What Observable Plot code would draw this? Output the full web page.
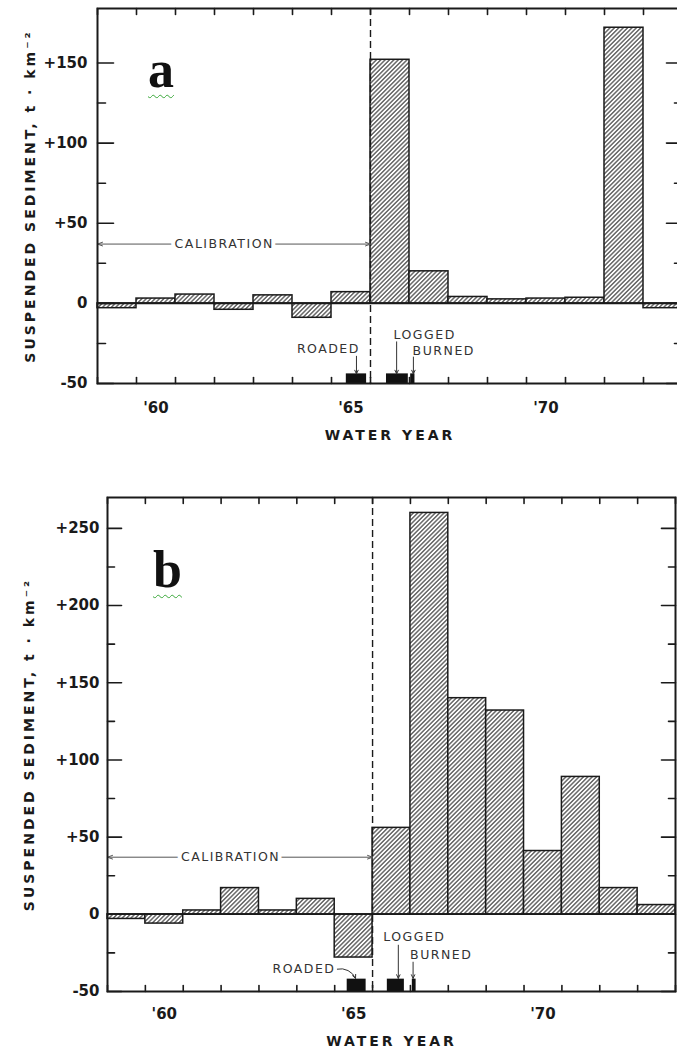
<!DOCTYPE html>
<html><head><meta charset="utf-8">
<script src="https://cdn.jsdelivr.net/npm/d3@7"></script>
<script src="https://cdn.jsdelivr.net/npm/@observablehq/plot@0.6"></script>
<style>
body{margin:0;background:#fff;overflow:hidden;}
#wrap{position:relative;width:677px;height:1051px;overflow:hidden;}
#wrap svg{display:block;max-width:none;}
.letter{position:absolute;font:bold 52px "Liberation Serif",serif;line-height:52px;color:#111;
  text-decoration:underline wavy #3aa83a;text-decoration-thickness:1px;text-underline-offset:7px;}
</style></head><body><div id="wrap"></div>
<script>
// ---- data ----
const waterYears = [1959,1960,1961,1962,1963,1964,1965,1966,1967,1968,1969,1970,1971,1972,1973];
const sedimentA = [-3, 3, 5.5, -4, 5, -9, 7, 152, 20, 4, 2.5, 3, 3.5, 172, -3];
const sedimentB = [-3, -6, 2.5, 17, 2.5, 10, -28, 56, 260, 140, 132, 41, 89, 17, 6];
const yMajorA = [-50, 0, 50, 100, 150];
const yMinorA = [-25, 25, 75, 125];
const yMajorB = [-50, 0, 50, 100, 150, 200, 250];
const yMinorB = [-25, 25, 75, 125, 175, 225];
const yearBoundaries = [1959,1960,1961,1962,1963,1964,1965,1966,1967,1968,1969,1970,1971,1972,1973,1974];
const yearLabelYears = [1960, 1965, 1970];
const yearLabels = ["'60", "'65", "'70"];
const treatmentYear = 1966;
const calibrationLabel = "CALIBRATION";
const calibrationStart = 1959, calibrationEnd = 1966, calibrationValue = 37, calibrationLabelAt = 1962.25;
const activities = ["ROADED", "LOGGED", "BURNED"];
const activityStartA = [1965.38, 1966.41, 1967.03];
const activityEndA   = [1965.9, 1966.97, 1967.14];
const activityStartB = [1965.33, 1966.39, 1967.05];
const activityEndB   = [1965.83, 1966.84, 1967.15];
// annotation anchors (data coordinates)
const notesA = [
  {text:"ROADED", x:1964.92, y:-28.5, anchor:"middle", x1:1965.64, y1:-33, x2:1965.64, y2:-44, bend:0},
  {text:"LOGGED", x:1966.59, y:-19.5, anchor:"start", x1:1966.67, y1:-24, x2:1966.67, y2:-44, bend:0},
  {text:"BURNED", x:1967.08, y:-30, anchor:"start", x1:1967.1, y1:-33.5, x2:1967.1, y2:-44, bend:0}
];
const notesB = [
  {text:"ROADED", x:1965.02, y:-35.5, anchor:"end", x1:1965.07, y1:-35.5, x2:1965.55, y2:-41.5, bend:40},
  {text:"LOGGED", x:1966.28, y:-15, anchor:"start", x1:1966.68, y1:-20, x2:1966.68, y2:-41.5, bend:0},
  {text:"BURNED", x:1966.99, y:-26.5, anchor:"start", x1:1967.07, y1:-31, x2:1967.07, y2:-41.5, bend:0}
];
const yTitle = "SUSPENDED SEDIMENT, t · km⁻²";
const xTitle = "WATER YEAR";

const ink = "#1a1a1a";
const tickShape = {draw(ctx, l){ ctx.moveTo(0,0); ctx.lineTo(0,-l); }};
const fmt = d => d > 0 ? "+" + d : String(d);

function ticks(values, ch, side, len){
  const rot = {left:90, right:-90, bottom:0, top:180}[side];
  return Plot.vector(values, {[ch]: d => d, frameAnchor: side, length: len, rotate: rot,
    anchor: "start", shape: tickShape, stroke: ink, strokeWidth: 1.6});
}

function panel(o){
  const rows = waterYears.map((year, i) => ({year, value: o.values[i]}));
  const acts = activities.map((name, i) => ({name, start: o.actStart[i], end: o.actEnd[i]}));
  const calib = [{label: calibrationLabel, at: calibrationLabelAt, start: calibrationStart, end: calibrationEnd, v: calibrationValue}];
  const labels = yearLabelYears.map((y, i) => ({y, t: yearLabels[i]}));
  const marks = [
    Plot.rect(rows, {x1: "year", x2: d => d.year + 1, y1: 0, y2: "value",
      fill: `url(#${o.hatch})`, stroke: ink, strokeWidth: 1.5}),
    Plot.ruleY([0], {stroke: ink, strokeWidth: 1.6}),
    Plot.ruleX([treatmentYear], {stroke: ink, strokeWidth: 1.4, strokeDasharray: "7,4"}),
    Plot.arrow(calib, {x1: "at", x2: "start", y1: "v", y2: "v", stroke: "#555", strokeWidth: 1, headLength: 8, headAngle: 40}),
    Plot.arrow(calib, {x1: "at", x2: "end", y1: "v", y2: "v", stroke: "#555", strokeWidth: 1, headLength: 8, headAngle: 40}),
    Plot.text(calib, {x: "at", y: "v", text: "label", fill: "#333", stroke: "white", strokeWidth: 8, fontSize: 12.5}),
    Plot.rect(acts, {x1: "start", x2: "end", y1: -50, y2: o.actTop, fill: "#111"}),
    ...o.notes.map(n => Plot.text([n], {x: "x", y: "y", text: "text", textAnchor: n.anchor, fill: "#333", fontSize: 12.5})),
    ...o.notes.map(n => Plot.arrow([n], {x1: "x1", y1: "y1", x2: "x2", y2: "y2", bend: n.bend, stroke: "#333", strokeWidth: 1, headLength: 6, headAngle: 50})),
    Plot.frame({stroke: ink, strokeWidth: 2}),
    ticks(o.yMajor, "y", "left", o.majLen),
    ticks(o.yMinor, "y", "left", o.minLen),
    ticks(o.yMajor, "y", "right", o.majLen),
    ticks(o.yMinor, "y", "right", o.minLen),
    ticks(yearBoundaries, "x", "bottom", 6),
    ticks(yearBoundaries, "x", "top", 6),
    Plot.text(o.yMajor, {y: d => d, text: fmt, frameAnchor: "left", textAnchor: "end", dx: o.ylabDx, fontSize: 15, fontWeight: "bold", fill: ink}),
    Plot.text(labels, {x: d => d.y + 0.5, text: "t", frameAnchor: "bottom", dy: o.xlabDy, fontSize: 15, fontWeight: "bold", fill: ink}),
    Plot.text([xTitle], {text: d => d, frameAnchor: "bottom", dy: o.xTitleDy, fontSize: 14, fontWeight: "bold", fill: ink}),
    Plot.text([yTitle], {text: d => d, frameAnchor: "left", textAnchor: "middle", rotate: -90, dx: o.yTitleDx, fontSize: 14, fontWeight: "bold", fill: ink})
  ];
  const svg = Plot.plot({
    width: o.width, height: o.height,
    marginLeft: o.ml, marginRight: o.mr, marginTop: o.mt, marginBottom: o.mb,
    x: {domain: [1959, 1974], axis: null},
    y: {domain: o.yDomain, axis: null},
    style: {fontFamily: "'DejaVu Sans', sans-serif", background: "white", maxWidth: "none"},
    marks
  });
  svg.style.maxWidth = "none";
  const defs = d3.select(svg).insert("defs", ":first-child");
  const s = 3.1;
  const p = defs.append("pattern").attr("id", o.hatch).attr("patternUnits", "userSpaceOnUse")
    .attr("width", s).attr("height", s).attr("patternTransform", "rotate(45)");
  p.append("rect").attr("width", s).attr("height", s).attr("fill", "#fff");
  p.append("line").attr("x1", s/2).attr("x2", s/2).attr("y1", 0).attr("y2", s).attr("stroke", "#4a4a4a").attr("stroke-width", 1.25);
  d3.select(svg).selectAll("text").each(function(){
    const t = this.textContent;
    if (t === xTitle || t === yTitle) this.style.letterSpacing = "3px";
    else if (/^[A-Z]{3,}/.test(t)) this.style.letterSpacing = "1.5px";
  });
  return svg;
}

const wrap = document.getElementById("wrap");
wrap.appendChild(panel({values: sedimentA, yDomain: [-50, 184], yMajor: yMajorA, yMinor: yMinorA,
  width: 682, height: 455, ml: 97, mr: 0, mt: 8, mb: 72, hatch: "hatchA",
  actStart: activityStartA, actEnd: activityEndA, actTop: -44, notes: notesA,
  majLen: 16, minLen: 8, ylabDx: -10, xlabDy: 29, xTitleDy: 56, yTitleDx: -67}));
wrap.appendChild(panel({values: sedimentB, yDomain: [-50, 270], yMajor: yMajorB, yMinor: yMinorB,
  width: 677, height: 596, ml: 107, mr: 2, mt: 42, mb: 60, hatch: "hatchB",
  actStart: activityStartB, actEnd: activityEndB, actTop: -42, notes: notesB,
  majLen: 14, minLen: 7, ylabDx: -8, xlabDy: 27, xTitleDy: 54, yTitleDx: -78}));

for (const [t, left, top] of [["a", 148, 43.5], ["b", 153, 543.5]]) {
  const d = document.createElement("div");
  d.className = "letter"; d.textContent = t;
  d.style.left = left + "px"; d.style.top = top + "px";
  wrap.appendChild(d);
}
</script></body></html>
